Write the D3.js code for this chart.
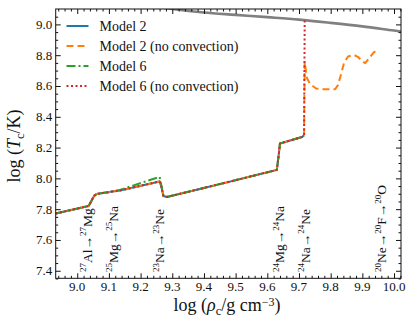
<!DOCTYPE html>
<html>
<head>
<meta charset="utf-8">
<script src="https://cdn.jsdelivr.net/npm/d3@7"></script>
<style>
  body { margin: 0; background: #fff; }
  text { font-family: "Liberation Serif", "Times New Roman", serif; fill: #111; }
</style>
</head>
<body>
<div id="chart"></div>
<script>
// ---- data ----
var baseRho = [8.932, 9.036, 9.043, 9.053, 9.062, 9.11, 9.135, 9.26, 9.265, 9.272, 9.283, 9.482, 9.63, 9.636, 9.640, 9.710, 9.716];
var baseT   = [7.772, 7.821, 7.847, 7.886, 7.899, 7.914, 7.921, 7.980, 7.951, 7.886, 7.879, 7.979, 8.055, 8.152, 8.227, 8.269, 8.280];

var m6Rho = [8.932, 9.036, 9.043, 9.053, 9.062, 9.11, 9.135, 9.26, 9.265, 9.272, 9.283, 9.482, 9.63, 9.636, 9.640, 9.710, 9.716];
var m6T   = [7.772, 7.821, 7.847, 7.886, 7.899, 7.914, 7.925, 8.010, 7.960, 7.886, 7.879, 7.979, 8.055, 8.152, 8.227, 8.269, 8.280];

var ncTailRho = [9.718, 9.725, 9.735, 9.754, 9.773, 9.814, 9.823, 9.833, 9.842, 9.855, 9.874, 9.887, 9.900, 9.909, 9.922, 9.934, 9.947];
var ncTailT   = [8.756, 8.652, 8.613, 8.584, 8.579, 8.579, 8.606, 8.678, 8.749, 8.792, 8.801, 8.788, 8.759, 8.749, 8.782, 8.814, 8.837];

var m6ncTailRho = [9.718];
var m6ncTailT   = [9.030];

var limitRho = [9.2, 9.3, 9.4, 9.5, 9.6, 9.7, 9.8, 9.9, 10.0, 10.03];
var limitT   = [9.13, 9.10, 9.077, 9.062, 9.047, 9.031, 9.010, 8.987, 8.960, 8.952];

var xTicks = [9.0, 9.1, 9.2, 9.3, 9.4, 9.5, 9.6, 9.7, 9.8, 9.9, 10.0];
var yTicks = [7.4, 7.6, 7.8, 8.0, 8.2, 8.4, 8.6, 8.8, 9.0];

var modelNames = ["Model 2", "Model 2 (no convection)", "Model 6", "Model 6 (no convection)"];

// reactions: [x position, [ [text, isSup], ... ] ]
var reactions = [
  [9.032, [["27", 1], ["Al\u2192", 0], ["27", 1], ["Mg", 0]]],
  [9.114, [["25", 1], ["Mg\u2192", 0], ["25", 1], ["Na", 0]]],
  [9.261, [["23", 1], ["Na\u2192", 0], ["23", 1], ["Ne", 0]]],
  [9.640, [["24", 1], ["Mg\u2192", 0], ["24", 1], ["Na", 0]]],
  [9.719, [["24", 1], ["Na\u2192", 0], ["24", 1], ["Ne", 0]]],
  [9.961, [["20", 1], ["Ne\u2192", 0], ["20", 1], ["F\u2192", 0], ["20", 1], ["O", 0]]]
];

function zip(xs, ys) { return xs.map(function(x, i){ return [x, ys[i]]; }); }

var series = [
  { name: modelNames[0], pts: zip(baseRho, baseT), color: "#1f77b4", dash: null },
  { name: modelNames[1], pts: zip(baseRho.concat(ncTailRho), baseT.concat(ncTailT)), color: "#ff7f0e", dash: "7,4" },
  { name: modelNames[2], pts: zip(m6Rho, m6T), color: "#2ca02c", dash: "9,3,2,3" },
  { name: modelNames[3], pts: zip(baseRho.concat(m6ncTailRho), baseT.concat(m6ncTailT)), color: "#d62728", dash: "2,2.5" }
];

// ---- layout ----
var W = 415, H = 331;
var m = { left: 55.7, right: 401, top: 9, bottom: 278.3 };

var svg = d3.select("#chart").append("svg").attr("width", W).attr("height", H);

var x = d3.scaleLinear().domain([8.932, 10.022]).range([m.left, m.right]);
var y = d3.scaleLinear().domain([7.351, 9.1]).range([m.bottom, m.top]);

svg.append("clipPath").attr("id", "clip")
  .append("rect").attr("x", m.left).attr("y", m.top)
  .attr("width", m.right - m.left).attr("height", m.bottom - m.top);

var line = d3.line().x(function(d){ return x(d[0]); }).y(function(d){ return y(d[1]); });

var plot = svg.append("g").attr("clip-path", "url(#clip)");

plot.append("path").datum(zip(limitRho, limitT))
  .attr("d", d3.line().curve(d3.curveMonotoneX).x(function(d){ return x(d[0]); }).y(function(d){ return y(d[1]); }))
  .attr("fill", "none").attr("stroke", "#808080").attr("stroke-width", 2.6);

series.forEach(function(s) {
  plot.append("path").datum(s.pts)
    .attr("d", line)
    .attr("fill", "none")
    .attr("stroke", s.color)
    .attr("stroke-width", 2)
    .attr("stroke-linejoin", "round")
    .attr("stroke-dasharray", s.dash);
});

// ---- axes (ticks inward on all sides) ----
var xMinor = d3.range(8.94, 10.021, 0.02).filter(function(v){ return Math.abs(Math.round(v * 10) - v * 10) > 1e-6; });
var yMinor = d3.range(7.35, 9.1, 0.05).filter(function(v){ return Math.abs(Math.round(v * 5) - v * 5) > 1e-6; });

function tickAxis(axisFn, scale, vals, size, tx, ty) {
  var g = svg.append("g").attr("transform", "translate(" + tx + "," + ty + ")")
    .call(axisFn(scale).tickValues(vals).tickSize(size).tickFormat(function(){ return ""; }));
  g.select(".domain").remove();
  g.selectAll("line").attr("stroke", "#111").attr("stroke-width", 1);
  return g;
}

tickAxis(d3.axisTop, x, xTicks, 5, 0, m.bottom);
tickAxis(d3.axisTop, x, xMinor, 2.5, 0, m.bottom);
tickAxis(d3.axisBottom, x, xTicks, 5, 0, m.top);
tickAxis(d3.axisBottom, x, xMinor, 2.5, 0, m.top);
tickAxis(d3.axisRight, y, yTicks, 5, m.left, 0);
tickAxis(d3.axisRight, y, yMinor, 2.5, m.left, 0);
tickAxis(d3.axisLeft, y, yTicks, 5, m.right, 0);
tickAxis(d3.axisLeft, y, yMinor, 2.5, m.right, 0);

svg.append("rect").attr("x", m.left).attr("y", m.top)
  .attr("width", m.right - m.left).attr("height", m.bottom - m.top)
  .attr("fill", "none").attr("stroke", "#111").attr("stroke-width", 1);

// tick labels
svg.append("g").selectAll("text").data(xTicks).join("text")
  .attr("x", function(d){ return x(d); }).attr("y", m.bottom + 12.5)
  .attr("text-anchor", "middle").attr("font-size", 13)
  .text(function(d){ return d.toFixed(1); });

svg.append("g").selectAll("text").data(yTicks).join("text")
  .attr("x", m.left - 3.5).attr("y", function(d){ return y(d) + 4.5; })
  .attr("text-anchor", "end").attr("font-size", 13)
  .text(function(d){ return d.toFixed(1); });

// axis titles
var xl = svg.append("text").attr("x", 227).attr("y", 311).attr("text-anchor", "middle").attr("font-size", 18);
xl.append("tspan").text("log (");
xl.append("tspan").attr("font-style", "italic").text("\u03c1");
xl.append("tspan").attr("font-size", 12.5).attr("dy", 3.5).text("c");
xl.append("tspan").attr("dy", -3.5).text("/g cm");
xl.append("tspan").attr("font-size", 12).attr("dy", -5.5).text("\u22123");
xl.append("tspan").attr("dy", 5.5).text(")");

var yl = svg.append("text").attr("transform", "translate(20,146) rotate(-90)")
  .attr("text-anchor", "middle").attr("font-size", 18);
yl.append("tspan").text("log (");
yl.append("tspan").attr("font-style", "italic").text("T");
yl.append("tspan").attr("font-size", 12.5).attr("dy", 3.5).text("c");
yl.append("tspan").attr("dy", -3.5).text("/K)");

// reaction labels (vertical)
reactions.forEach(function(r) {
  var t = svg.append("text")
    .attr("transform", "translate(" + (x(r[0]) + 4.5) + "," + 272 + ") rotate(-90)")
    .attr("font-size", 13.5);
  var prevSup = 0;
  r[1].forEach(function(p) {
    var sp = t.append("tspan").text(p[0]);
    if (p[1]) { sp.attr("font-size", 9).attr("dy", prevSup ? 0 : -5.5); }
    else { sp.attr("dy", prevSup ? 5.5 : 0); }
    prevSup = p[1];
  });
});

// legend
var leg = svg.append("g");
series.forEach(function(s, i) {
  var ly = 26 + i * 20;
  leg.append("line").attr("x1", 66.5).attr("x2", 88.5).attr("y1", ly).attr("y2", ly)
    .attr("stroke", s.color).attr("stroke-width", 2).attr("stroke-dasharray", s.dash);
  leg.append("text").attr("x", 99.5).attr("y", ly + 4.5).attr("font-size", 14).text(s.name);
});
</script>
</body>
</html>
